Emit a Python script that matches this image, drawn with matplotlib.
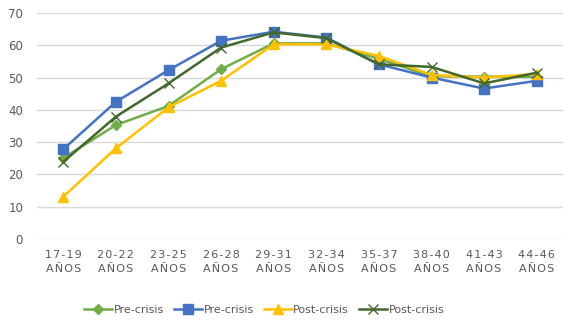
import matplotlib
matplotlib.use("Agg")
import matplotlib.pyplot as plt

categories = ["17-19\nAÑOS", "20-22\nAÑOS", "23-25\nAÑOS", "26-28\nAÑOS", "29-31\nAÑOS",
              "32-34\nAÑOS", "35-37\nAÑOS", "38-40\nAÑOS", "41-43\nAÑOS", "44-46\nAÑOS"]
pre_green = [25.1, 35.3, 41.2, 52.6, 60.6, 60.6, 55.8, 50.4, 50.3, 50.2]
pre_blue = [27.8, 42.5, 52.3, 61.4, 64.2, 62.4, 54.1, 50.0, 46.6, 49.0]
post_yellow = [13.1, 28.1, 40.8, 49.0, 60.3, 60.3, 56.7, 50.8, 50.0, 51.1]
post_dark = [23.9, 37.9, 48.2, 59.3, 64.0, 62.2, 54.1, 53.3, 48.2, 51.5]
series_labels = ["Pre-crisis", "Pre-crisis", "Post-crisis", "Post-crisis"]

def spaced(s):
    return "\n".join("\u200a".join(line) for line in s.split("\n"))

fig = plt.figure(figsize=(5.77, 3.28), dpi=100)
ax = fig.add_axes([37/577, 1 - 239/328, 526/577, 226/328])

x = list(range(len(categories)))
ax.plot(x, pre_green, color="#70AD47", lw=1.8, marker="D", ms=5, label=series_labels[0], zorder=3)
ax.plot(x, pre_blue, color="#4472C4", lw=1.8, marker="s", ms=7.5, label=series_labels[1], zorder=3)
ax.plot(x, post_yellow, color="#FFC000", lw=1.8, marker="^", ms=7.5, label=series_labels[2], zorder=3)
ax.plot(x, post_dark, color="#43682B", lw=1.8, marker="x", ms=7, mew=1.0, label=series_labels[3], zorder=4)

ax.set_xlim(-0.5, len(categories) - 0.5)
ax.set_ylim(0, 70)
ax.set_yticks(range(0, 71, 10))
ax.set_xticks(x)
ax.set_xticklabels([spaced(c) for c in categories], fontsize=8, color="#595959", linespacing=1.5)
ax.tick_params(axis="y", labelsize=8.5, colors="#595959", length=0, pad=10)
ax.tick_params(axis="x", length=0, pad=8)
ax.grid(axis="y", color="#D9D9D9", lw=1)
ax.set_axisbelow(True)
for s in ax.spines.values():
    s.set_visible(False)

fig.legend(loc="center", bbox_to_anchor=(0.458, 1 - 310/328), ncol=4, frameon=False,
           fontsize=8, handlelength=2.5, handletextpad=0.15, columnspacing=0.9,
           labelcolor="#595959")

fig.savefig("out.png", dpi=100)
